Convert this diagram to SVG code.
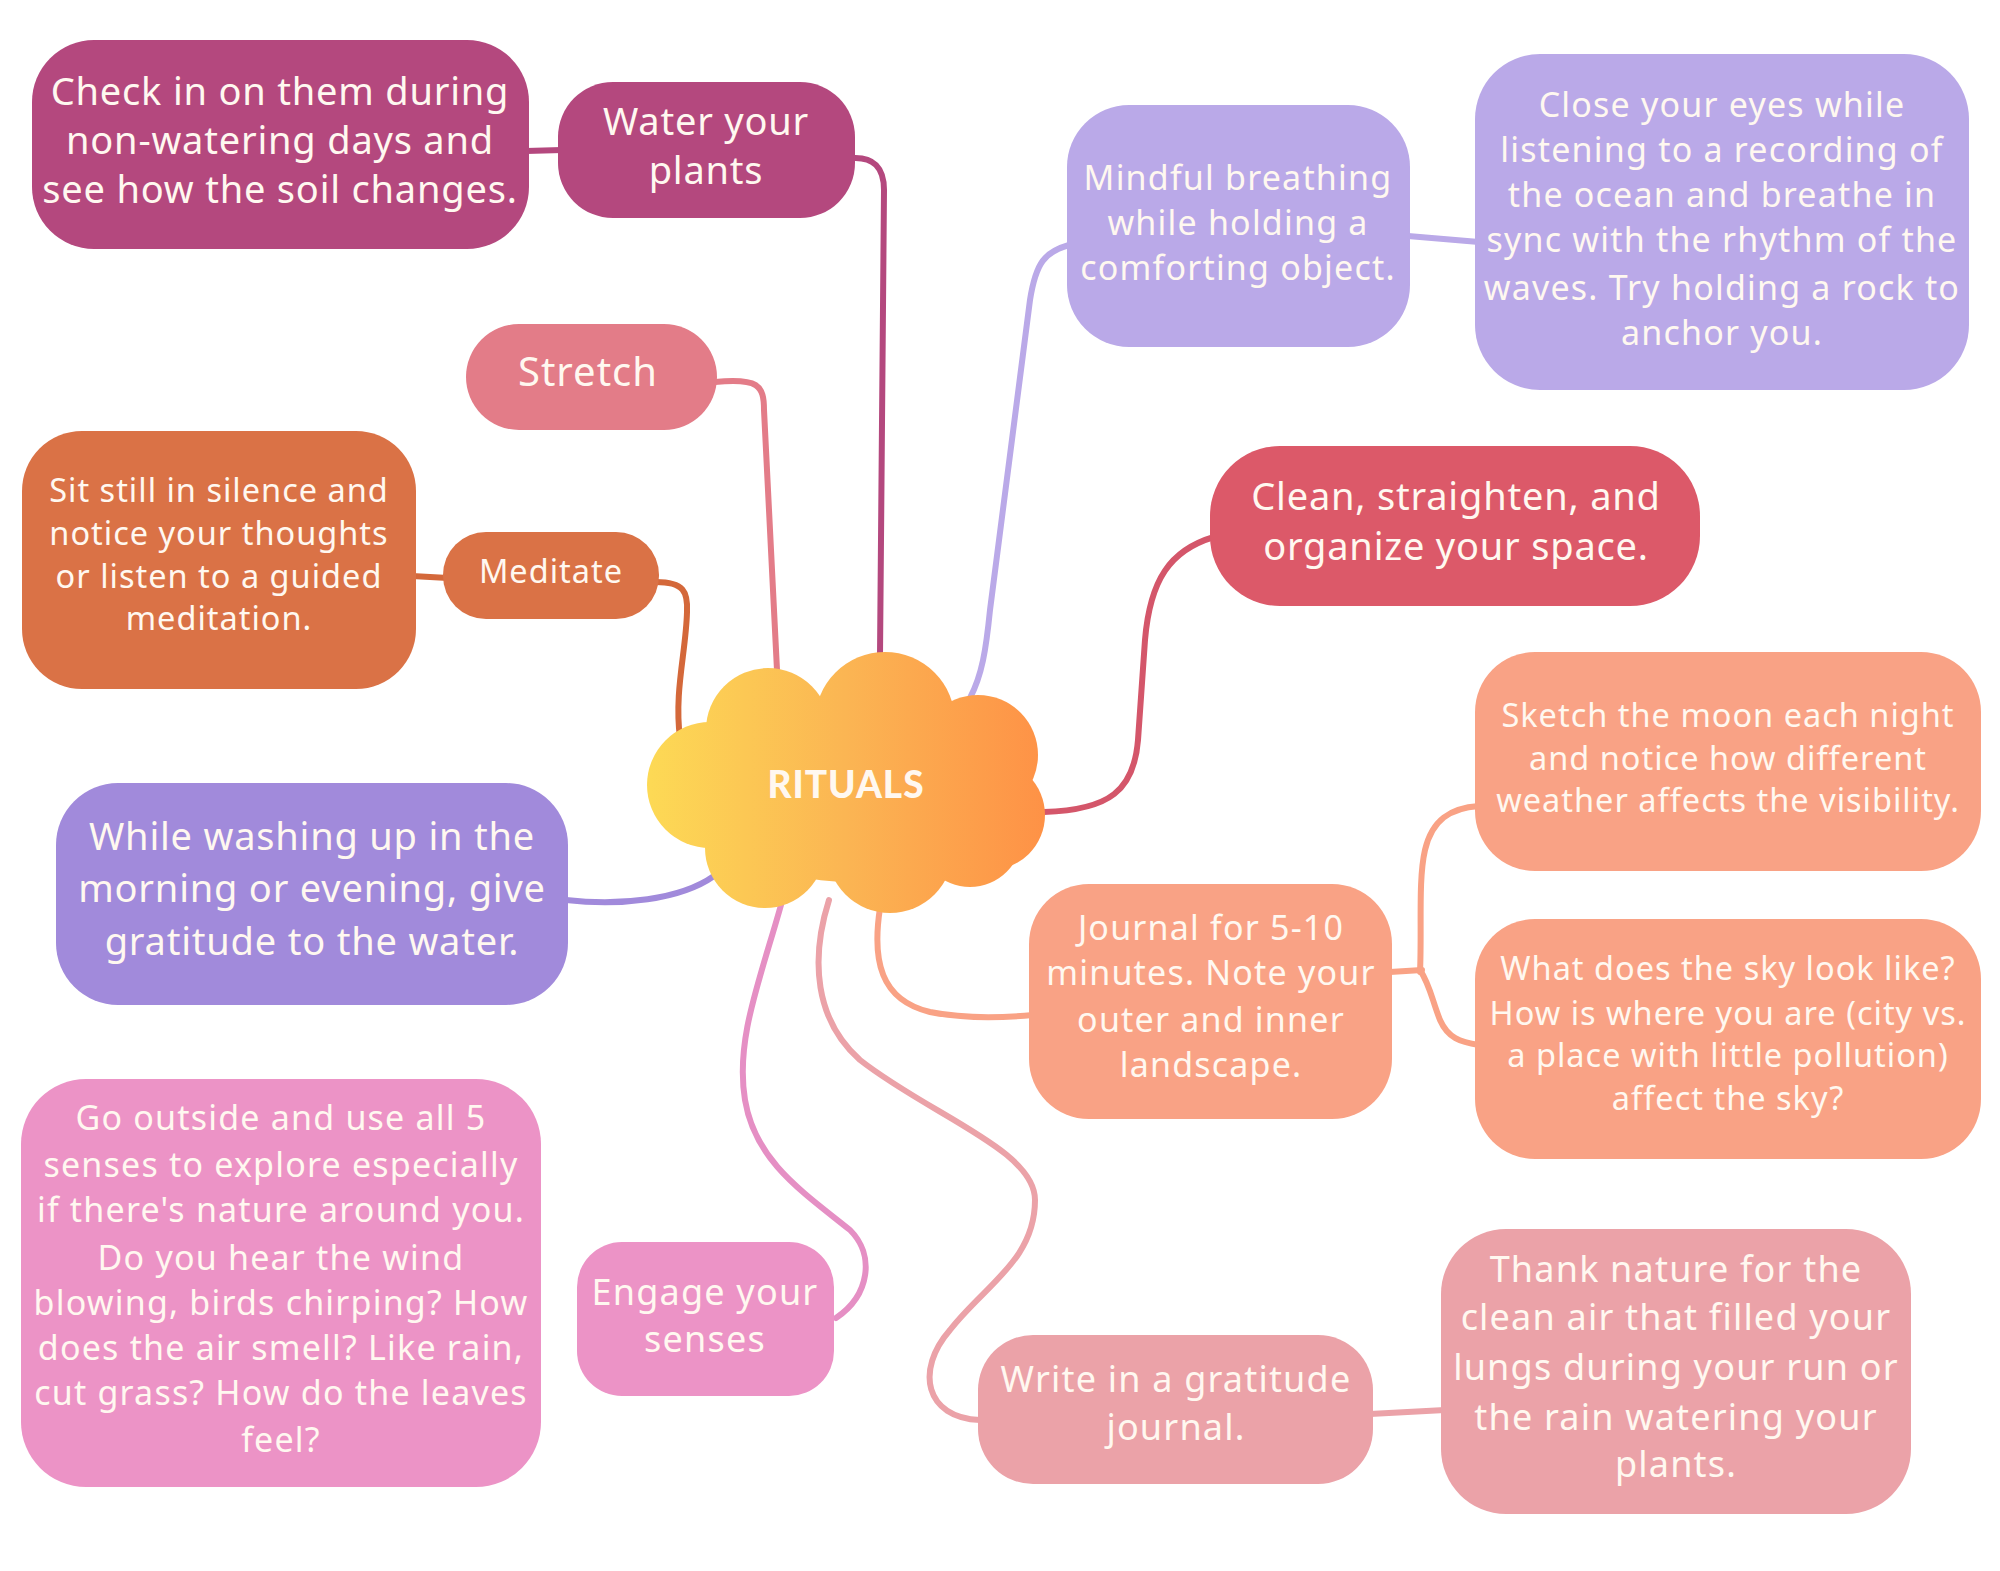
<svg xmlns="http://www.w3.org/2000/svg" width="2000" height="1571" viewBox="0 0 2000 1571">
<defs>
<linearGradient id="cloudGrad" gradientUnits="userSpaceOnUse" x1="645" y1="0" x2="1048" y2="0">
<stop offset="0" stop-color="#FDDA55"/>
<stop offset="0.5" stop-color="#FBB553"/>
<stop offset="1" stop-color="#FE9146"/>
</linearGradient>
<style>
text{font-family:"Noto Sans","Open Sans","Liberation Sans",sans-serif;fill:#FFF8F0;text-anchor:middle;}
.c{fill:none;stroke-width:6;stroke-linecap:round;stroke-linejoin:round;}
.t38{font-size:38px;letter-spacing:0.8px;}
.t32{font-size:32.5px;letter-spacing:1px;}
.t34{font-size:34px;letter-spacing:1.2px;}
.t36{font-size:36px;letter-spacing:1.2px;}
</style>
</defs>
<rect width="2000" height="1571" fill="#FFFFFF"/>

<g id="connectors">
<path class="c" stroke="#B4487E" d="M 526 151 L 562 150"/>
<path class="c" stroke="#B4487E" d="M 852 158 Q 884 156 884 190 L 880 656"/>
<path class="c" stroke="#E37C88" d="M 715 382 C 758 378 764 385 764 410 L 777 670"/>
<path class="c" stroke="#D4683A" d="M 412 576 L 448 578"/>
<path class="c" stroke="#D4683A" d="M 656 582 C 684 582 688 592 687 612 C 686 652 674 692 680 738"/>
<path class="c" stroke="#A18ADB" d="M 566 900 C 620 906 680 900 714 876"/>
<path class="c" stroke="#E58FC4" d="M 781 905 C 760 980 735 1040 745 1100 C 755 1160 800 1190 850 1230 C 875 1255 870 1295 836 1318"/>
<path class="c" stroke="#EBA2A8" d="M 829 900 C 810 960 815 1020 860 1060 C 930 1115 1035 1150 1035 1200 C 1035 1260 985 1285 950 1330 C 915 1370 925 1418 980 1420"/>
<path class="c" stroke="#F9A285" d="M 880 908 C 872 960 880 1000 930 1012 C 960 1018 1000 1018 1033 1015"/>
<path class="c" stroke="#F9A285" d="M 1390 972 L 1422 970"/>
<path class="c" stroke="#F9A285" d="M 1420 972 C 1422 930 1418 880 1425 850 C 1432 820 1450 808 1479 806"/>
<path class="c" stroke="#F9A285" d="M 1420 970 C 1430 985 1432 1000 1440 1020 C 1448 1038 1460 1042 1479 1045"/>
<path class="c" stroke="#BAA9E8" d="M 1069 245 C 1045 252 1036 262 1030 300 L 990 610 C 986 650 982 675 970 698"/>
<path class="c" stroke="#BAA9E8" d="M 1408 236 L 1479 242"/>
<path class="c" stroke="#D4566A" d="M 1214 537 C 1170 550 1150 580 1145 640 L 1138 740 C 1134 790 1110 810 1044 812"/>
<path class="c" stroke="#EBA2A8" d="M 1370 1414 L 1445 1410"/>
</g>

<g id="node-rituals">
<g fill="url(#cloudGrad)">
<circle cx="768" cy="730" r="62"/>
<circle cx="885" cy="722" r="70"/>
<circle cx="978" cy="755" r="60"/>
<circle cx="990" cy="815" r="55"/>
<circle cx="970" cy="835" r="52"/>
<circle cx="890" cy="850" r="63"/>
<circle cx="765" cy="848" r="60"/>
<circle cx="710" cy="785" r="63"/>
<ellipse cx="850" cy="790" rx="150" ry="92"/>
</g>
<text x="846" y="798" style="font-family:'Lato','Liberation Sans',sans-serif;font-size:37px;font-weight:900;letter-spacing:1px;">RITUALS</text>
</g>

<g id="node-checkin">
<rect x="32" y="40" width="497" height="209" rx="62" fill="#B4487E"/>
<text class="t38" x="280" y="105">Check in on them during</text>
<text class="t38" x="280" y="154">non-watering days and</text>
<text class="t38" x="280" y="203">see how the soil changes.</text>
</g>

<g id="node-water">
<rect x="558" y="82" width="297" height="136" rx="55" fill="#B4487E"/>
<text class="t38" x="706" y="135">Water your</text>
<text class="t38" x="706" y="184">plants</text>
</g>

<g id="node-stretch">
<rect x="466" y="324" width="251" height="106" rx="53" fill="#E37C88"/>
<text x="588" y="386" style="font-size:40px;letter-spacing:1px;">Stretch</text>
</g>

<g id="node-sitstill">
<rect x="22" y="431" width="394" height="258" rx="60" fill="#DA7246"/>
<text class="t32" x="219" y="502">Sit still in silence and</text>
<text class="t32" x="219" y="545">notice your thoughts</text>
<text class="t32" x="219" y="588">or listen to a guided</text>
<text class="t32" x="219" y="630">meditation.</text>
</g>

<g id="node-meditate">
<rect x="443" y="532" width="216" height="87" rx="43" fill="#DA7246"/>
<text class="t32" x="551" y="583">Meditate</text>
</g>

<g id="node-washing">
<rect x="56" y="783" width="512" height="222" rx="62" fill="#A18ADB"/>
<text class="t38" x="312" y="850">While washing up in the</text>
<text class="t38" x="312" y="902">morning or evening, give</text>
<text class="t38" x="312" y="955">gratitude to the water.</text>
</g>

<g id="node-gooutside">
<rect x="21" y="1079" width="520" height="408" rx="65" fill="#EC93C6"/>
<text class="t34" x="281" y="1130">Go outside and use all 5</text>
<text class="t34" x="281" y="1177">senses to explore especially</text>
<text class="t34" x="281" y="1222">if there's nature around you.</text>
<text class="t34" x="281" y="1270">Do you hear the wind</text>
<text class="t34" x="281" y="1315">blowing, birds chirping? How</text>
<text class="t34" x="281" y="1360">does the air smell? Like rain,</text>
<text class="t34" x="281" y="1405">cut grass? How do the leaves</text>
<text class="t34" x="281" y="1452">feel?</text>
</g>

<g id="node-engage">
<rect x="577" y="1242" width="257" height="154" rx="45" fill="#EC93C6"/>
<text class="t36" x="705" y="1305">Engage your</text>
<text class="t36" x="705" y="1352">senses</text>
</g>

<g id="node-mindful">
<rect x="1067" y="105" width="343" height="242" rx="62" fill="#BAA9E8"/>
<text class="t34" x="1238" y="190">Mindful breathing</text>
<text class="t34" x="1238" y="235">while holding a</text>
<text class="t34" x="1238" y="280">comforting object.</text>
</g>

<g id="node-close">
<rect x="1475" y="54" width="494" height="336" rx="65" fill="#BAA9E8"/>
<text class="t34" x="1722" y="117">Close your eyes while</text>
<text class="t34" x="1722" y="162">listening to a recording of</text>
<text class="t34" x="1722" y="207">the ocean and breathe in</text>
<text class="t34" x="1722" y="252">sync with the rhythm of the</text>
<text class="t34" x="1722" y="300">waves. Try holding a rock to</text>
<text class="t34" x="1722" y="345">anchor you.</text>
</g>

<g id="node-clean">
<rect x="1210" y="446" width="490" height="160" rx="70" fill="#DC5969"/>
<text class="t38" x="1456" y="510">Clean, straighten, and</text>
<text class="t38" x="1456" y="560">organize your space.</text>
</g>

<g id="node-sketch">
<rect x="1475" y="652" width="506" height="219" rx="60" fill="#F9A285"/>
<text class="t32" x="1728" y="727">Sketch the moon each night</text>
<text class="t32" x="1728" y="770">and notice how different</text>
<text class="t32" x="1728" y="812">weather affects the visibility.</text>
</g>

<g id="node-journal">
<rect x="1029" y="884" width="363" height="235" rx="60" fill="#F9A285"/>
<text class="t34" x="1211" y="940">Journal for 5-10</text>
<text class="t34" x="1211" y="985">minutes. Note your</text>
<text class="t34" x="1211" y="1032">outer and inner</text>
<text class="t34" x="1211" y="1077">landscape.</text>
</g>

<g id="node-sky">
<rect x="1475" y="919" width="506" height="240" rx="60" fill="#F9A285"/>
<text class="t32" x="1728" y="980">What does the sky look like?</text>
<text class="t32" x="1728" y="1025">How is where you are (city vs.</text>
<text class="t32" x="1728" y="1067">a place with little pollution)</text>
<text class="t32" x="1728" y="1110">affect the sky?</text>
</g>

<g id="node-write">
<rect x="978" y="1335" width="395" height="149" rx="55" fill="#EBA2A8"/>
<text class="t36" x="1176" y="1392">Write in a gratitude</text>
<text class="t36" x="1176" y="1440">journal.</text>
</g>

<g id="node-thank">
<rect x="1441" y="1229" width="470" height="285" rx="65" fill="#EBA2A8"/>
<text class="t36" x="1676" y="1282">Thank nature for the</text>
<text class="t36" x="1676" y="1330">clean air that filled your</text>
<text class="t36" x="1676" y="1380">lungs during your run or</text>
<text class="t36" x="1676" y="1430">the rain watering your</text>
<text class="t36" x="1676" y="1477">plants.</text>
</g>
</svg>
